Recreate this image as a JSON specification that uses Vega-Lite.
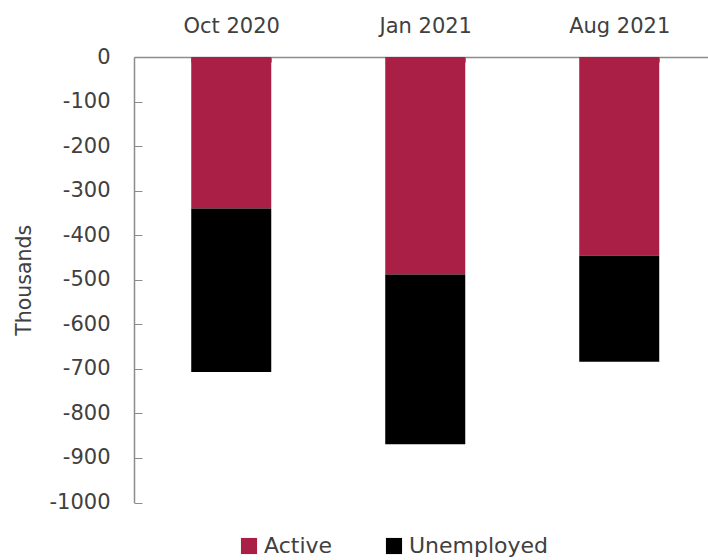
{
  "$schema": "https://vega.github.io/schema/vega-lite/v6.json",
  "width": 574,
  "height": 445.5,
  "autosize": {"type": "none"},
  "padding": {"left": 134, "top": 57, "right": 0, "bottom": 57.5},
  "background": "white",
  "config": {
    "view": {"stroke": null},
    "font": "DejaVu Sans",
    "axis": {"labelFont": "DejaVu Sans", "titleFont": "DejaVu Sans", "labelColor": "#404040", "titleColor": "#404040", "domainColor": "#8c8c8c", "tickColor": "#8c8c8c", "grid": false}
  },
  "data": {
    "values": [
      {"period": "Oct 2020", "group": "Active", "order": 1, "value": -340},
      {"period": "Oct 2020", "group": "Unemployed", "order": 2, "value": -367},
      {"period": "Jan 2021", "group": "Active", "order": 1, "value": -488},
      {"period": "Jan 2021", "group": "Unemployed", "order": 2, "value": -381},
      {"period": "Aug 2021", "group": "Active", "order": 1, "value": -446},
      {"period": "Aug 2021", "group": "Unemployed", "order": 2, "value": -238}
    ]
  },
  "mark": {"type": "bar"},
  "encoding": {
    "x": {
      "field": "period", "type": "nominal", "sort": ["Oct 2020", "Jan 2021", "Aug 2021"],
      "scale": {"paddingInner": 0.5876, "paddingOuter": 0.2732, "align": 0.54},
      "axis": {"orient": "top", "title": null, "labelAngle": 0, "labelFontSize": 21, "labelPadding": 26, "tickBand": "extent", "tickSize": -5, "domainWidth": 1.5}
    },
    "y": {
      "field": "value", "type": "quantitative", "stack": "zero",
      "scale": {"domain": [-1000, 0], "nice": false},
      "axis": {"title": "Thousands", "titleFontSize": 20.5, "titleFontWeight": "normal", "titlePadding": 14, "labelFontSize": 21, "labelPadding": 32, "tickSize": -8, "labelExpr": "'' + datum.value", "values": [0, -100, -200, -300, -400, -500, -600, -700, -800, -900, -1000], "domainWidth": 1.5}
    },
    "color": {
      "field": "group", "type": "nominal",
      "scale": {"domain": ["Active", "Unemployed"], "range": ["#AA1F45", "#000000"]},
      "legend": {"title": null, "orient": "none", "legendX": 104, "legendY": 478, "direction": "horizontal", "symbolType": "square", "symbolSize": 260, "symbolStrokeWidth": 0, "labelFontSize": 22, "labelColor": "#404040", "labelOffset": 4, "columnPadding": 50, "labelFont": "DejaVu Sans"}
    },
    "order": {"field": "order", "type": "quantitative"}
  }
}
